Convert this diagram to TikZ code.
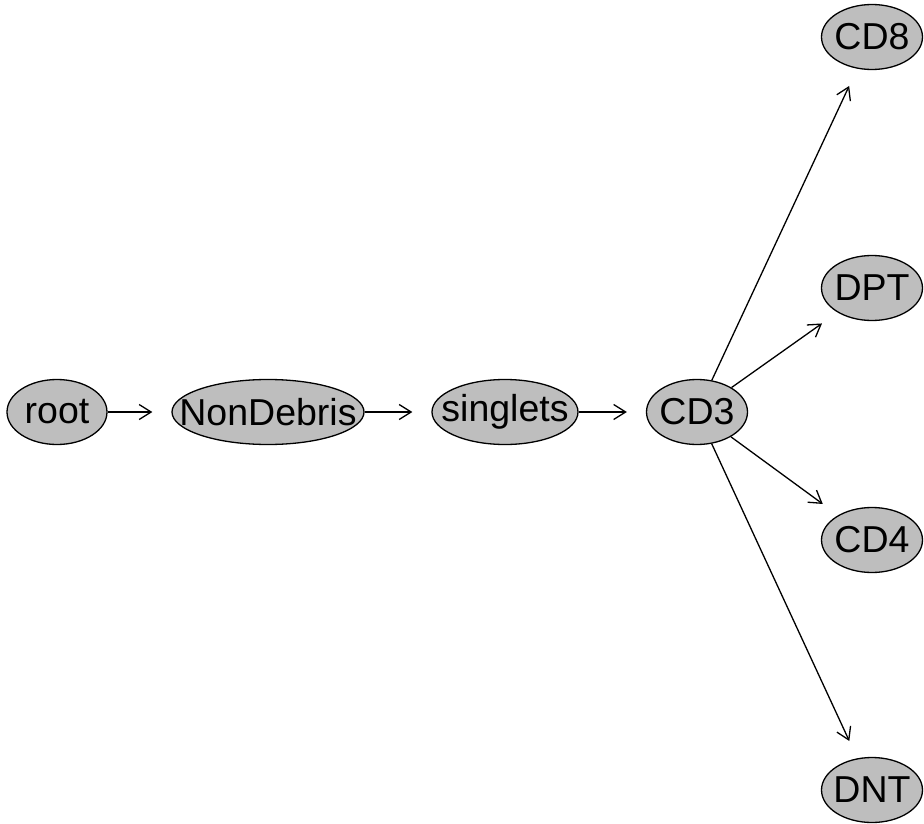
\documentclass[tikz,border=0pt]{standalone}
\usepackage{fontspec}
\setmainfont{Liberation Sans}
\usetikzlibrary{shapes.geometric,arrows.meta}
\definecolor{nodegray}{HTML}{BEBEBE}
\begin{document}
\begin{tikzpicture}[x=1pt,y=-1pt,
  ell/.style={ellipse, draw=black, line width=1.3pt, fill=nodegray, inner sep=0pt,
    minimum height=65pt, label={[font=\fontsize{37.5}{42}\selectfont, inner sep=0pt]center:#1}},
  edge/.style={line width=1.3pt, shorten >=19pt, -{Straight Barb[length=12pt,width=15pt,line width=1.3pt]}}]
\useasboundingbox (0,0) rectangle (924,824);
\node[ell=root, minimum width=100pt] (root) at (57,412) {};
\node[ell=NonDebris, minimum width=192pt] (nd) at (268,412) {};
\node[ell=singlets, minimum width=146pt] (sg) at (505,412) {};
\node[ell=CD3, minimum width=101pt] (cd3) at (697,412) {};
\node[ell=CD8, minimum width=101pt] (cd8) at (872,37) {};
\node[ell=DPT, minimum width=101pt] (dpt) at (872,288) {};
\node[ell=CD4, minimum width=101pt] (cd4) at (872,540) {};
\node[ell=DNT, minimum width=101pt] (dnt) at (872,790) {};
\draw[edge] (root) -- (nd);
\draw[edge] (nd) -- (sg);
\draw[edge] (sg) -- (cd3);
\draw[edge] (cd3) -- (cd8);
\draw[edge] (cd3) -- (dpt);
\draw[edge] (cd3) -- (cd4);
\draw[edge] (cd3) -- (dnt);
\end{tikzpicture}
\end{document}
